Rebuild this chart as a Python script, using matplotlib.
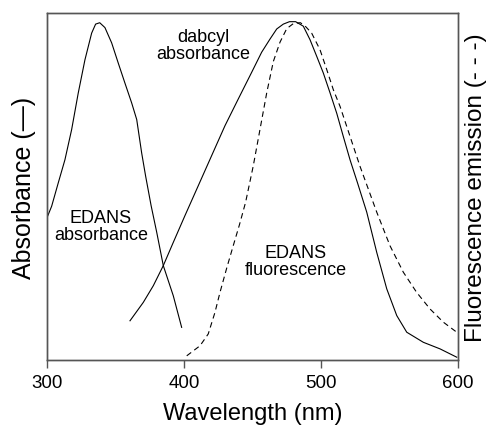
import matplotlib
matplotlib.use("Agg")
import matplotlib.pyplot as plt

plt.rcParams['font.family'] = ['Liberation Sans', 'DejaVu Sans']

OUTPUT_PLOT = "out.png"

# EDANS absorbance (solid)
edans_abs_nm = [300, 303.4, 308.2, 313.1, 318, 322.8, 327.7, 332.6, 335.5, 338.5,
                342.3, 347.2, 352, 356.9, 361.8, 365.5, 369.1, 372, 376, 380.1,
                384.9, 392.2, 398.3]
edans_abs = [0.41, 0.443, 0.51, 0.577, 0.664, 0.769, 0.865, 0.942, 0.968, 0.972,
             0.958, 0.914, 0.856, 0.798, 0.741, 0.693, 0.597, 0.53, 0.445, 0.368,
             0.272, 0.185, 0.094]

# dabcyl absorbance (solid)
dabcyl_nm = [360.6, 370.3, 377.6, 384.9, 392.2, 400.7, 410.4, 420.2, 429.9, 439.6,
             449.4, 456.7, 462.8, 467.7, 472.5, 477, 481.5, 487.1, 492, 496.9,
             501.7, 506.6, 511.5, 516.3, 521.2, 526.7, 533.4, 540.7, 548, 555.3,
             562.6, 574.7, 586.9, 599.1]
dabcyl_abs = [0.113, 0.166, 0.214, 0.272, 0.339, 0.416, 0.502, 0.589, 0.675, 0.752,
              0.829, 0.887, 0.925, 0.954, 0.968, 0.975, 0.975, 0.962, 0.923, 0.875,
              0.827, 0.770, 0.711, 0.644, 0.577, 0.51, 0.426, 0.310, 0.205, 0.128,
              0.080, 0.051, 0.032, 0.008]

# EDANS fluorescence emission (dashed)
edans_fl_nm = [402, 411.7, 417.7, 422.6, 426.3, 431.2, 436, 440.5, 445, 450.6,
               455.5, 460.4, 465.2, 470.1, 475, 480, 485, 489, 493.2, 499.3,
               504.2, 509, 513.9, 518.8, 523.6, 528.5, 533.4, 540.7, 550.4, 560.1,
               569.8, 579.6, 589.3, 599.1]
edans_fl = [0.012, 0.041, 0.075, 0.137, 0.195, 0.265, 0.33, 0.39, 0.455, 0.56,
            0.665, 0.77, 0.86, 0.916, 0.955, 0.970, 0.972, 0.96, 0.942, 0.894,
            0.837, 0.779, 0.731, 0.673, 0.616, 0.558, 0.505, 0.426, 0.329, 0.253,
            0.195, 0.147, 0.109, 0.080]

xticks = [300, 400, 500, 600]

fig = plt.figure(figsize=(4.94, 4.27), dpi=100)
ax = fig.add_axes([0.0951, 0.1546, 0.8320, 0.8126])
ax2 = ax.twinx()

ax.plot(edans_abs_nm, edans_abs, color="black", lw=0.8)
ax.plot(dabcyl_nm, dabcyl_abs, color="black", lw=0.8)
ax2.plot(edans_fl_nm, edans_fl, color="black", lw=0.8, dashes=(5, 3.5))

for a in (ax, ax2):
    a.set_xlim(300, 600)
    a.set_ylim(0, 1)
    a.set_yticks([])
    for s in a.spines.values():
        s.set_color("#555555")
        s.set_linewidth(1.0)

ax.set_xticks(xticks)
ax.set_xticklabels([str(t) for t in xticks])
ax.tick_params(axis="x", direction="out", length=6, width=1.0, color="#555555",
               labelsize=13.5, pad=4)

ax.set_xlabel("Wavelength (nm)", fontsize=17, labelpad=8)
ax.set_ylabel("Absorbance (\u2014)", fontsize=18, labelpad=8)
ax2.set_ylabel("Fluorescence emission (- - -)", fontsize=17.5, labelpad=5)

ax.text(339.4, 0.385, "EDANS\nabsorbance", ha="center", va="center",
        fontsize=13, linespacing=1.0)
ax.text(413.9, 0.908, "dabcyl\nabsorbance", ha="center", va="center",
        fontsize=13, linespacing=1.0)
ax.text(481.8, 0.284, "EDANS\nfluorescence", ha="center", va="center",
        fontsize=13, linespacing=1.0)

plt.savefig(OUTPUT_PLOT)
